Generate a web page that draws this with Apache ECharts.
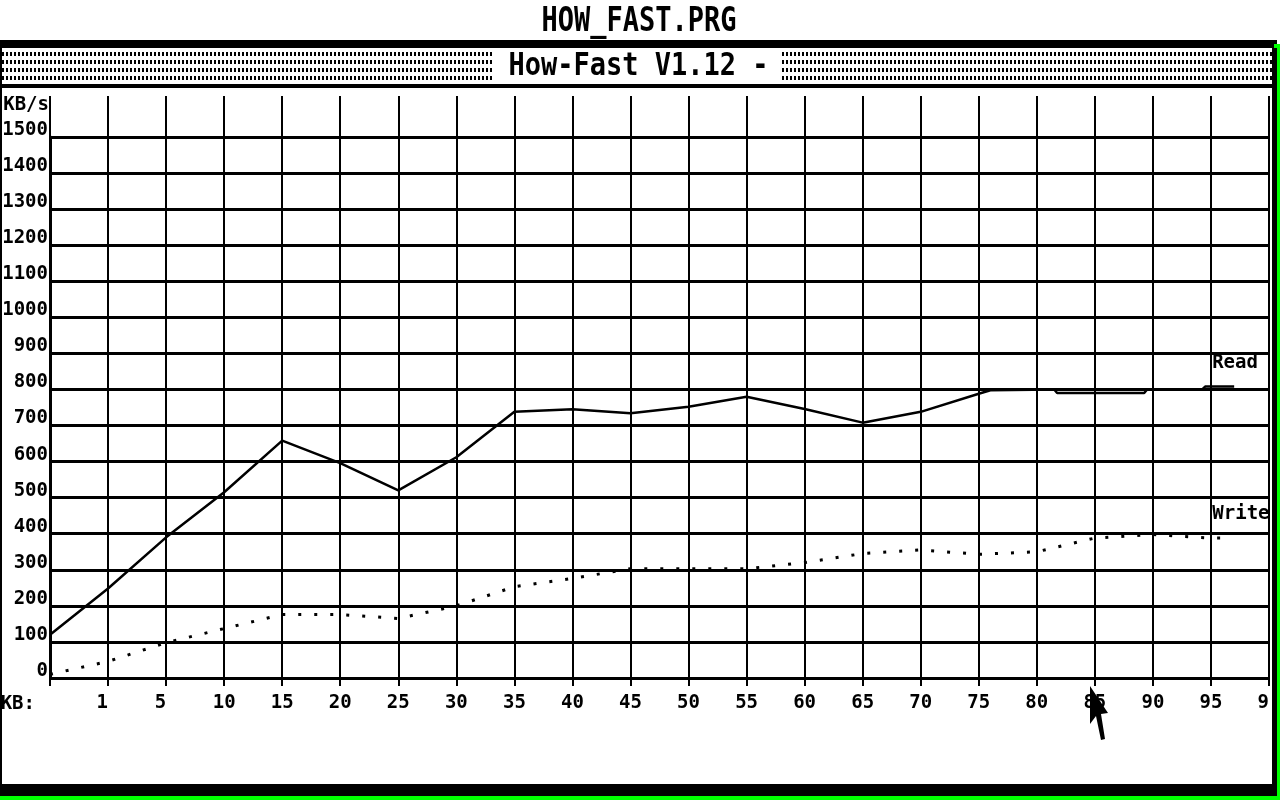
<!DOCTYPE html>
<html>
<head>
<meta charset="utf-8">
<title>HOW_FAST.PRG</title>
<script src="https://cdn.jsdelivr.net/npm/echarts@6/dist/echarts.min.js"></script>
<style>
  html, body { margin: 0; padding: 0; background: #fff; }
  #chart { width: 1280px; height: 800px; }
</style>
</head>
<body>
<div id="chart"></div>
<script>
// x positions are the column index on the screen (0 = left axis)
const kbLabels = ['', '1 ', '5 ', '10', '15', '20', '25', '30', '35', '40', '45',
  '50', '55', '60', '65', '70', '75', '80', '85', '90', '95', '99']

const readPos = [0, 1, 2, 3, 4, 5, 6, 7, 8, 9, 10, 11, 12, 13, 14, 15, 16,
  16.2, 17.3, 17.35, 18.85, 18.9, 19.85, 19.9, 20.4]
const readKBs = [120, 248, 390, 515, 658, 596, 520, 612, 738, 745, 734, 752, 780, 746, 708, 738, 788,
  798, 800, 790, 790, 800, 800, 808, 808]

const writePos = [0, 1, 2, 3, 4, 5, 6, 7, 8, 9, 10, 11, 12, 13, 14, 15, 16, 17, 18, 19, 20, 20.3]
const writeKBs = [10, 46, 98, 137, 176, 176, 165, 200, 253, 276, 303, 303, 303, 320, 345, 355, 343, 350, 388, 398, 388, 388]

const mono = '"DejaVu Sans Mono", "Liberation Mono", monospace'

function zip(xs, ys) {
  return xs.map((x, i) => [x, ys[i]])
}

// title bar hatch, 4x8 tile
const hatch = document.createElement('canvas')
hatch.width = 4
hatch.height = 8
const hctx = hatch.getContext('2d')
hctx.fillStyle = '#000'
hctx.fillRect(2, 4, 2, 4)

const smallText = {
  color: '#000',
  fontFamily: mono,
  fontSize: 19,
  fontWeight: 'bold'
}

const chart = echarts.init(document.getElementById('chart'))

chart.setOption({
  animation: false,
  backgroundColor: '#fff',
  grid: {
    left: 50,
    right: 11,
    top: 137,
    bottom: 122,
    containLabel: false,
    outerBoundsMode: 'none'
  },
  xAxis: [
    {
      type: 'value',
      min: 0,
      max: 21,
      interval: 1,
      position: 'bottom',
      name: 'KB:',
      nameLocation: 'start',
      nameGap: 15,
      nameTextStyle: {
        ...smallText,
        align: 'right',
        verticalAlign: 'top',
        padding: [17, 0, 0, 0]
      },
      axisLine: { show: false },
      axisTick: { show: true, length: 8, lineStyle: { color: '#000', width: 2 } },
      axisLabel: {
        ...smallText,
        margin: 16,
        showMinLabel: true,
        showMaxLabel: true,
        formatter: (v) => kbLabels[Math.round(v)] || ''
      },
      splitLine: { show: true, lineStyle: { color: '#000', width: 2 } }
    },
    {
      type: 'value',
      min: 0,
      max: 21,
      interval: 1,
      position: 'top',
      axisLine: { show: false },
      axisTick: { show: true, length: 41, lineStyle: { color: '#000', width: 2 } },
      axisLabel: { show: false },
      splitLine: { show: false }
    }
  ],
  yAxis: {
    type: 'value',
    min: 0,
    max: 1500,
    interval: 100,
    name: 'KB/s',
    nameLocation: 'end',
    nameGap: 22,
    nameTextStyle: {
      ...smallText,
      align: 'right',
      padding: [0, 1, 0, 0]
    },
    axisLine: { show: true, lineStyle: { color: '#000', width: 3 } },
    axisTick: { show: false },
    axisLabel: {
      ...smallText,
      margin: 2,
      verticalAlign: 'bottom',
      lineHeight: 14,
      formatter: (v) => String(v)
    },
    splitLine: { show: true, lineStyle: { color: '#000', width: 3 } }
  },
  series: [
    {
      name: 'Read',
      type: 'line',
      data: zip(readPos, readKBs),
      symbol: 'none',
      lineStyle: { color: '#000', width: 2.5 },
      endLabel: {
        show: true,
        formatter: 'Read',
        ...smallText,
        align: 'left',
        offset: [-30, -24]
      }
    },
    {
      name: 'Write',
      type: 'line',
      data: zip(writePos, writeKBs),
      symbol: 'none',
      lineStyle: { color: '#000', width: 3, type: [3, 13], cap: 'butt' },
      endLabel: {
        show: true,
        formatter: 'Write',
        ...smallText,
        align: 'left',
        offset: [-24, -24]
      }
    }
  ],
  graphic: {
    elements: [
      // program name above the window
      {
        type: 'text', x: 639, y: 22, scaleY: 1.25, silent: true, z: 100,
        style: {
          text: 'HOW_FAST.PRG', fill: '#000', font: 'bold 27px ' + mono,
          textAlign: 'center', textVerticalAlign: 'middle'
        }
      },
      // window frame
      { type: 'rect', silent: true, z: 100, shape: { x: 0, y: 40, width: 1274, height: 8 }, style: { fill: '#000' } },
      { type: 'rect', silent: true, z: 100, shape: { x: 2, y: 48, width: 1270, height: 36 }, style: { fill: { image: hatch, repeat: 'repeat' } } },
      { type: 'rect', silent: true, z: 101, shape: { x: 492, y: 48, width: 290, height: 36 }, style: { fill: '#fff' } },
      {
        type: 'text', x: 638.5, y: 67, scaleY: 1.2, silent: true, z: 102,
        style: {
          text: 'How-Fast V1.12 -', fill: '#000', font: 'bold 27px ' + mono,
          textAlign: 'center', textVerticalAlign: 'middle'
        }
      },
      { type: 'rect', silent: true, z: 100, shape: { x: 0, y: 84, width: 1274, height: 4 }, style: { fill: '#000' } },
      { type: 'rect', silent: true, z: 100, shape: { x: 0, y: 40, width: 2, height: 756 }, style: { fill: '#000' } },
      { type: 'rect', silent: true, z: 100, shape: { x: 1270, y: 686, width: 2, height: 34 }, style: { fill: '#fff' } },
      { type: 'rect', silent: true, z: 100, shape: { x: 1272, y: 40, width: 5, height: 756 }, style: { fill: '#000' } },
      { type: 'rect', silent: true, z: 100, shape: { x: 0, y: 784, width: 1277, height: 12 }, style: { fill: '#000' } },
      { type: 'rect', silent: true, z: 100, shape: { x: 1274, y: 44, width: 6, height: 4 }, style: { fill: '#00ff00' } },
      { type: 'rect', silent: true, z: 100, shape: { x: 1277, y: 48, width: 3, height: 752 }, style: { fill: '#00ff00' } },
      { type: 'rect', silent: true, z: 100, shape: { x: 0, y: 796, width: 1280, height: 4 }, style: { fill: '#00ff00' } },
      // mouse pointer
      {
        type: 'polygon', silent: true, z: 100,
        shape: { points: [[1090, 686], [1090, 724], [1096, 716], [1101, 740], [1105, 739], [1101, 714], [1108, 713]] },
        style: { fill: '#000' }
      }
    ]
  }
})
</script>
</body>
</html>
